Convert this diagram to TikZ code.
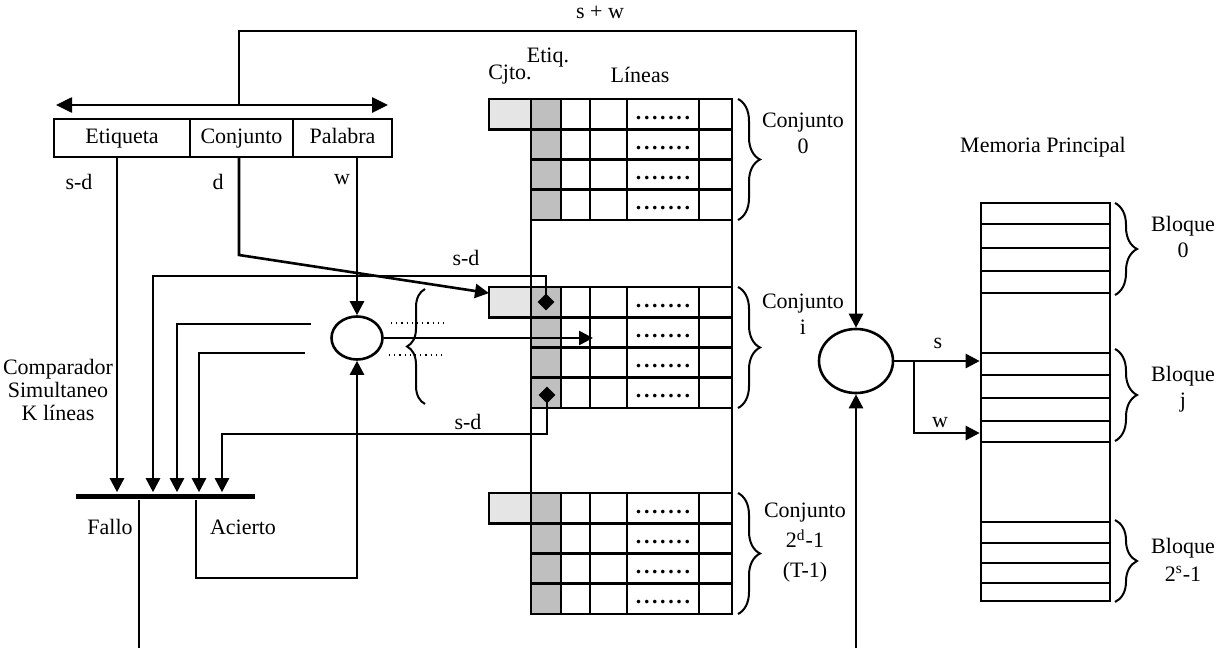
\documentclass[tikz,border=0pt]{standalone}
\usepackage{fontspec}
\setmainfont{Liberation Serif}
\usetikzlibrary{
	arrows.meta,
	calc,
	positioning,
	shapes.geometric,
	decorations.pathreplacing
}
\newcommand{\puntos}{\textbf{.\kern1.3pt.\kern1.3pt.\kern1.3pt.\kern1.3pt.\kern1.3pt.\kern1.3pt.}}

\begin{document}
\begin{tikzpicture}[x=0.5pt, y=-0.5pt, line width=1.3pt,
		font=\fontsize{11}{13}\selectfont,
		flecha/.style={-{Triangle[length=7pt,width=7pt]}},
		campo/.style={draw, rectangle, minimum height=19pt, inner sep=0pt, outer sep=0pt, text height=1.6ex, text depth=0.5ex},
		llave/.style={decorate, decoration={brace, amplitude=#1}, line width=1pt},
		llave/.default=11pt,
		cjto/.style={draw, fill=gray!20, rectangle, minimum width=21pt, minimum height=15.1pt, inner sep=0pt, outer sep=0pt},
		punto/.style={diamond, fill=black, inner sep=0pt, minimum size=9pt},
		comp/.style={draw, ellipse, inner sep=0pt}]
		\useasboundingbox (0,0) rectangle (1231,648);

		% registro de direccion
		\node[campo, minimum width=68pt] (etq) at (122,138) {Etiqueta};
		\node[campo, minimum width=51.5pt, right=0pt of etq] (cjt) {Conjunto};
		\node[campo, minimum width=49.5pt, right=0pt of cjt] (pal) {Palabra};
		\coordinate (izq) at (56,105);
		\coordinate (der) at (388,105);
		\coordinate (rama) at (239,105);
		\draw[{Triangle[length=8pt,width=7.5pt]}-{Triangle[length=8pt,width=7.5pt]}] (izq) -- (der);
		\node at (79,182) {s-d};
		\node at (218,182) {d};
		\node at (342,180) {w};

		% memoria cache
		\foreach \t [count=\i from 0] in {99,287,493} {
			\fill[gray!50] (531,\t) rectangle (561,\t+121);
			\node[cjto, anchor=north west] (cj\i) at (489,\t) {};
			\foreach \k in {1,...,3}
				\draw (531,\t+30.25*\k) -- (732,\t+30.25*\k);
			\draw (531,\t) -- (732,\t);
			\draw (531,\t+121) -- (732,\t+121);
			\foreach \x in {561,590,627,699}
				\draw (\x,\t) -- (\x,\t+121);
			\foreach \k in {0,...,3}
				\node[anchor=base, inner sep=0pt] at (663,\t+30.25*\k+20) {\puntos};
		}
		\draw (531,99) rectangle (732,614);
		\node at (510,75) {Cjto.};
		\node at (548,58) {Etiq.};
		\node at (640,75) {Líneas};

		\draw[llave] (738,99) -- (738,220);
		\draw[llave] (738,287) -- (738,408);
		\draw[llave] (738,493) -- (738,614);
		\node[align=center] at (803,133) {Conjunto\\0};
		\node[align=center] at (803,314) {Conjunto\\i};
		\node[align=center, font=\fontsize{11}{15}\selectfont] at (805,543) {Conjunto\\2\textsuperscript{d}-1\\(T-1)};

		% comparadores
		\node[comp, minimum width=25.5pt, minimum height=21.5pt] (cmpA) at (357,338) {};
		\node[comp, minimum width=37pt, minimum height=32pt] (cmpB) at (856,361) {};
		\node[fill=black, inner sep=0pt, minimum width=89.5pt, minimum height=2.5pt] (bus) at (165.5,496) {};

		\coordinate (xE) at (117,0);
		\coordinate (xW) at (357,0);
		\coordinate (xF) at (593,0);
		\coordinate (xA) at (196,0);
		\coordinate (fallo) at (139,648);
		\coordinate (vuelta) at (196,578);
		\coordinate (c1) at (153,276);
		\coordinate (c2) at (177,324);
		\coordinate (c2e) at (311,324);
		\coordinate (c3) at (199,353);
		\coordinate (c3e) at (305,353);
		\coordinate (c4) at (222,434);
		\coordinate (quiebre) at (239,255);
		\coordinate (arriba) at (239,31);
		\coordinate (abajo) at (856,648);
		\coordinate (cw) at (914,433);

		\coordinate (dA) at (546,302);
		\coordinate (dB) at (547,395);

		\draw[flecha] (rama) -- (arriba) -| (cmpB.north);
		\node at (600,12) {s + w};
		\draw[flecha] (etq.south -| xE) -- (bus.north -| xE);
		\draw[flecha] (cjt.south -| rama) -- (quiebre) -- ([yshift=4.5pt]cj1.west);
		\draw[flecha] (pal.south -| xW) -- (cmpA.north);
		\draw[flecha] (cmpA.east) -- (cmpA.east -| xF);
		\draw[flecha] (dA) |- (c1) -- (bus.north -| c1);
		\draw[flecha] (c2e) -- (c2) -- (bus.north -| c2);
		\draw[flecha] (c3e) -- (c3) -- (bus.north -| c3);
		\draw[flecha] (dB) |- (c4) -- (bus.north -| c4);
		\node[punto] at (dA) {};
		\node[punto] at (dB) {};
		\node at (466,258) {s-d};
		\node at (468,422) {s-d};
		\draw[dotted, line width=0.6pt] (391,323) -- (444,323);
		\draw[dotted, line width=0.6pt] (389,355) -- (443,355);
		\draw[llave=9pt] (425,404) -- (425,289);

		\draw (bus.south -| fallo) -- (fallo);
		\draw[flecha] (bus.south -| xA) -- (vuelta) -| (cmpA.south);
		\node[align=center, font=\fontsize{11}{11.5}\selectfont] at (58,390) {Comparador\\Simultaneo\\K líneas};
		\node at (110,527) {Fallo};
		\node at (243,527) {Acierto};

		% memoria principal
		\node[draw, rectangle, inner sep=0pt, minimum width=64.5pt, minimum height=199pt] (mem) at (1045.5,402) {};
		\foreach \y in {224,248,271,293,353,375,398,421,442,522,543,563,583}
			\draw (981,\y) -- (1110,\y);
		\node at (1043,147) {Memoria Principal};
		\draw[flecha] (abajo) -- (cmpB.south);
		\draw[flecha] (cmpB.east) -- (cmpB.east -| mem.west);
		\draw[flecha] (cmpB.east -| cw) -- (cw) -- (cw -| mem.west);
		\node at (938,343) {s};
		\node at (940,423) {w};
		\draw[llave] (1115,203) -- (1115,295);
		\draw[llave] (1115,349) -- (1115,441);
		\draw[llave] (1115,520) -- (1115,602);
		\node[align=center] at (1183,237) {Bloque\\0};
		\node[align=center] at (1183,389) {Bloque\\j};
		\node[align=center, font=\fontsize{11}{14}\selectfont] at (1183,560) {Bloque\\2\textsuperscript{s}-1};
	\end{tikzpicture}
\end{document}
